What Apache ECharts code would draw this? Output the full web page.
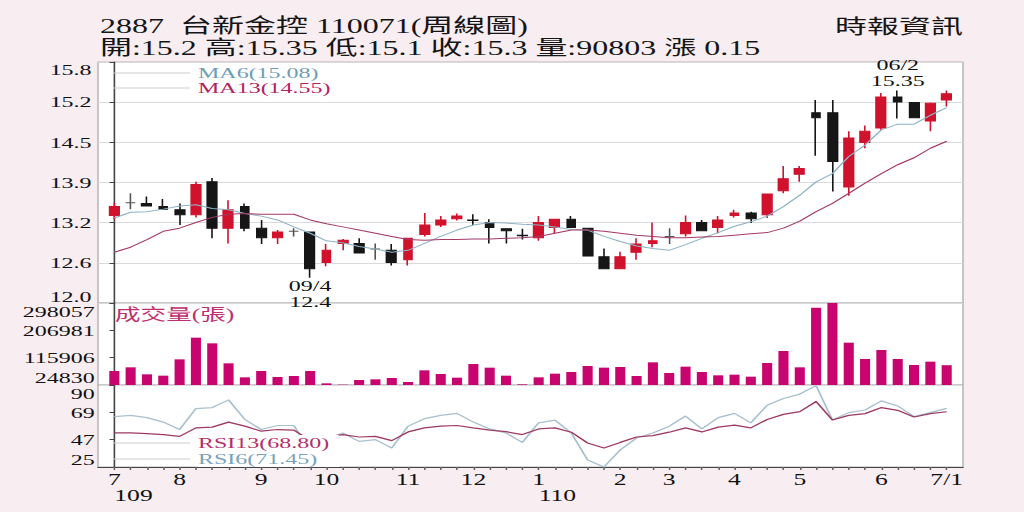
<!DOCTYPE html>
<html><head><meta charset="utf-8">
<script src="https://cdn.jsdelivr.net/npm/echarts@6/dist/echarts.min.js"></script>
<style>
html,body{margin:0;padding:0;background:#f8edf1;overflow:hidden;width:1024px;height:512px;}
#wrap{width:1024px;height:512px;overflow:hidden;position:relative;}
#chart{width:640px;height:512px;transform:scaleX(1.6);transform-origin:0 0;}
</style></head><body><div id="wrap"><div id="chart"></div></div>
<script>
// ---- data (weekly, 109/07 .. 110/07/01) ----
const opens  = [13.38,13.58,13.57,13.52,13.47,13.39,13.91,13.18,13.52,13.18,13.03,13.13,13.12,12.64,12.94,12.94,12.85,12.83,12.68,13.08,13.23,13.33,13.31,13.27,13.17,13.07,13.03,13.19,13.32,13.18,12.73,12.54,12.80,12.94,13.05,13.09,13.27,13.19,13.38,13.42,13.39,13.77,14.03,15.00,15.00,13.83,14.53,14.76,15.25,15.16,14.87,15.20];
const closes = [13.52,13.58,13.53,13.48,13.39,13.87,13.18,13.47,13.18,13.03,13.12,13.13,12.54,12.83,12.99,12.79,12.85,12.64,13.02,13.23,13.31,13.37,13.30,13.19,13.14,13.06,13.27,13.32,13.19,12.74,12.54,12.73,12.93,12.98,13.05,13.27,13.14,13.31,13.42,13.33,13.72,13.96,14.12,14.92,14.23,14.60,14.71,15.25,15.17,14.92,15.15,15.30];
const lows   = [13.32,13.48,13.52,13.47,13.23,13.35,13.02,12.94,13.13,12.93,12.93,13.05,12.40,12.58,12.83,12.79,12.68,12.59,12.59,13.05,13.20,13.30,13.23,12.94,12.94,13.00,12.98,13.10,13.19,12.74,12.54,12.54,12.68,12.88,12.93,13.05,13.13,13.10,13.35,13.26,13.34,13.73,13.91,14.32,13.76,13.69,14.44,14.73,14.91,14.92,14.71,15.10];
const highs  = [13.58,13.73,13.68,13.64,13.57,13.91,13.97,13.62,13.57,13.31,13.15,13.18,13.12,12.93,13.01,13.02,12.94,12.93,13.02,13.42,13.37,13.41,13.40,13.32,13.17,13.17,13.37,13.32,13.37,13.18,12.86,12.81,13.02,13.27,13.18,13.38,13.31,13.37,13.47,13.44,13.72,14.16,14.16,15.20,15.20,14.71,14.80,15.31,15.35,15.16,15.16,15.35];
const ma6    = [13.34,13.43,13.44,13.48,13.53,13.55,13.49,13.47,13.41,13.37,13.31,13.20,13.10,12.98,12.95,12.89,12.85,12.80,12.83,12.94,13.05,13.15,13.23,13.27,13.26,13.24,13.23,13.20,13.16,13.15,13.05,12.97,12.90,12.86,12.83,12.92,13.02,13.11,13.21,13.28,13.37,13.52,13.70,13.91,14.04,14.31,14.49,14.73,14.82,14.82,14.96,15.08];
const ma13   = [12.80,12.88,13.00,13.13,13.18,13.27,13.35,13.40,13.41,13.40,13.40,13.40,13.31,13.25,13.20,13.15,13.10,13.05,13.00,12.99,13.00,13.00,13.01,13.01,13.02,13.03,13.05,13.10,13.15,13.15,13.13,13.10,13.07,13.05,13.03,13.03,13.04,13.05,13.07,13.09,13.11,13.18,13.29,13.44,13.57,13.73,13.89,14.04,14.18,14.29,14.44,14.55];
const volumes = [71480,83700,60370,55930,110350,182550,163670,97030,50380,71480,51490,54820,71480,30380,25940,41490,43710,48150,34830,73700,61480,49260,94800,82590,55930,27050,50380,62590,68150,88140,82590,84810,54820,100360,64810,85920,68150,57040,59260,52600,98140,138120,83700,282510,298057,165890,111460,141450,111460,91470,102580,90803];
const rsi6  = [64.9,65.9,64.1,60.6,54.7,71.3,72.1,78.2,62.7,54.7,57.9,57.9,38.0,47.0,52.0,45.3,46.7,40.0,57.4,63.3,65.9,67.5,60.6,55.2,52.0,44.5,60.0,62.2,52.0,30.6,25.0,38.6,48.0,52.0,57.4,65.4,55.2,64.1,67.5,60.0,74.0,79.3,82.8,89.5,62.2,68.1,70.2,77.4,73.4,64.9,68.1,71.45];
const rsi13 = [52.0,52.0,51.5,50.7,49.3,56.0,56.6,60.6,57.4,53.4,54.7,54.2,46.0,49.0,50.7,48.8,49.3,45.9,52.8,56.0,57.4,57.9,56.0,54.2,53.0,50.7,55.2,56.0,52.6,44.0,40.0,44.5,48.8,49.9,52.6,56.0,52.8,56.6,58.2,56.0,62.7,66.7,68.9,76.9,62.2,65.9,67.3,72.1,69.9,64.6,67.3,68.80];

// ---- axis ticks / labels ----
const monthTickIdx = [0,4,9,13,18,22,26,31,34,38,42,47,51];
const monthLabels  = ['7','8','9','10','11','12','1','2','3','4','5','6','7/1'];
const yearTickIdx  = [0,26];
const yearLabels   = ['109','110'];
const priceTickVals = [12.0,12.6333,13.2667,13.9,14.5333,15.1667,15.8];
const priceTickLabels = ['12.0','12.6','13.2','13.9','14.5','15.2','15.8'];
const volTickVals = [24830,115905.67,206981.33,298057];
const volTickLabels = ['24830','115906','206981','298057'];
const rsiTickVals = [25,46.667,68.333,90];
const rsiTickLabels = ['25','47','69','90'];
const extremes = [{idx:12, date:'09/4', kind:'low'},{idx:48, date:'06/2', kind:'high'}];
const stockCode = '2887', stockName = '台新金控', dateCode = '110071';

// ---- layout helpers (chart is drawn 640 wide and stretched x1.6) ----
const SX = 1.6;
const px = v => v / SX;
const CW = 640;
const gLeft = px(98), gRight = CW - px(963);
const SERIF = '"Liberation Serif","Noto Sans CJK TC",serif';
const last = a => a[a.length-1];

function labelFmt(vals, labels){
  return function(v){
    let k = vals.findIndex(t => Math.abs(t - v) < 1e-3);
    if (k < 0) return '';
    if (k === vals.length-1) return '{t|' + labels[k] + '}';
    if (k === 0) return '{b|' + labels[k] + '}';
    return labels[k];
  };
}
function richFor(padTop, padBot){
  const base = {fontSize:15, fontFamily:SERIF, color:'#111'};
  return {t:Object.assign({padding:[padTop,0,0,0]}, base), b:Object.assign({padding:[0,0,padBot,0]}, base)};
}
function yAxisDef(grid, min, max, vals, labels, padTop, padBot, split, margin){
  return {
    type:'value', gridIndex:grid, min:min, max:max,
    axisLine:{show:true, lineStyle:{color:'#444', width:1}},
    axisTick:{show:true, length:3, customValues:vals, lineStyle:{color:'#444'}},
    axisLabel:{customValues:vals, formatter:labelFmt(vals,labels), rich:richFor(padTop,padBot),
      fontSize:15, fontFamily:SERIF, color:'#111', margin:margin},
    splitLine:{show:split, customValues:vals, lineStyle:{color:'#dadada', width:1}}
  };
}
const idx = opens.map((_, i) => i);
const xBase = {type:'value', min:-1, max:52};

const chart = echarts.init(document.getElementById('chart'), null, {renderer:'svg', width:CW, height:512});
const gridStyle = {show:true, backgroundColor:'#fff', borderColor:'#b8b8b8', borderWidth:1, left:gLeft, right:gRight};

const chg = (closes[closes.length-1] - closes[closes.length-2]).toFixed(2);

const option = {
  animation:false,
  backgroundColor:'transparent',
  grid:[
    Object.assign({top:62, height:241}, gridStyle),
    Object.assign({top:303, height:82}, gridStyle),
    Object.assign({top:385, height:82}, gridStyle)
  ],
  xAxis:[
    Object.assign({gridIndex:0, axisLine:{show:false}, axisTick:{show:false}, axisLabel:{show:false}, splitLine:{show:false}}, xBase),
    Object.assign({gridIndex:1, axisLine:{show:false}, axisTick:{show:false}, axisLabel:{show:false}, splitLine:{show:false}}, xBase),
    Object.assign({gridIndex:2, position:'bottom',
      axisLine:{show:true, lineStyle:{color:'#444'}},
      axisTick:{show:true, length:3, customValues:idx, lineStyle:{color:'#666'}},
      axisLabel:{customValues:monthTickIdx, formatter:v => monthLabels[monthTickIdx.indexOf(Math.round(v))] || '',
        fontSize:16, fontFamily:SERIF, color:'#111', margin:5},
      splitLine:{show:false}}, xBase),
    Object.assign({gridIndex:2, position:'bottom', offset:16,
      axisLine:{show:false}, axisTick:{show:false},
      axisLabel:{customValues:yearTickIdx, formatter:v => yearLabels[yearTickIdx.indexOf(Math.round(v))] || '',
        align:'left', fontSize:16, fontFamily:SERIF, color:'#111', margin:5},
      splitLine:{show:false}}, xBase)
  ],
  yAxis:[
    yAxisDef(0, 12.0, 15.8, priceTickVals, priceTickLabels, 16, 12, true, 4),
    yAxisDef(1, 24830, 298057, volTickVals, volTickLabels, 18, 15, false, 2),
    yAxisDef(2, 25, 90, rsiTickVals, rsiTickLabels, 17, 14, false, 2)
  ],
  legend:[
    {orient:'vertical', left:px(113), top:65.5, padding:0, itemGap:0, itemWidth:px(190-113), itemHeight:1.2,
     icon:'rect', selectedMode:false, itemStyle:{color:'#cdcdcd', borderWidth:0},
     textStyle:{fontFamily:SERIF, fontSize:15, lineHeight:15},
     data:[{name:'MA6(' + last(ma6).toFixed(2) + ')', textStyle:{color:'#6f9db5'}},
           {name:'MA13(' + last(ma13).toFixed(2) + ')', textStyle:{color:'#b3245f'}}]},
    {orient:'vertical', left:px(113), top:435, padding:0, itemGap:0, itemWidth:px(190-113), itemHeight:1.2,
     icon:'rect', selectedMode:false, itemStyle:{color:'#cdcdcd', borderWidth:0},
     textStyle:{fontFamily:SERIF, fontSize:15, lineHeight:16, backgroundColor:'#fff', width:88},
     data:[{name:'RSI13(' + last(rsi13).toFixed(2) + ')', textStyle:{color:'#b3306a'}},
           {name:'RSI6(' + last(rsi6).toFixed(2) + ')', textStyle:{color:'#79a3b9'}}]}
  ],
  graphic:[
    {type:'text', x:px(100), y:26.5, style:{text:stockCode + '  ' + stockName + ' ' + dateCode + '(周線圖)', font:'20px ' + SERIF, fill:'#151515', verticalAlign:'middle'}},
    {type:'text', x:px(100), y:48, style:{text:'開:' + opens[51] + ' 高:' + highs[51] + ' 低:' + lows[51].toFixed(1) + ' 收:' + closes[51].toFixed(1) + ' 量:' + volumes[51] + ' 漲 ' + chg, font:'20px ' + SERIF, fill:'#151515', verticalAlign:'middle'}},
    {type:'text', x:px(963), y:27, style:{text:'時報資訊', font:'20px ' + SERIF, fill:'#151515', align:'right', verticalAlign:'middle'}},
    {type:'text', x:px(115), y:315, z:10, style:{text:'成交量(張)', font:'16px ' + SERIF, fill:'#c0306e', verticalAlign:'middle'}}
  ],
  series:[
    {type:'candlestick', name:'K', xAxisIndex:0, yAxisIndex:0, barWidth:6.3,
     itemStyle:{color:'#d0122c', color0:'#161616', borderColor:'#d0122c', borderColor0:'#161616', borderColorDoji:'#555', borderWidth:1},
     data: idx.map(i => [i, opens[i], closes[i], lows[i], highs[i]]),
     markPoint:{symbol:'circle', symbolSize:0, animation:false,
       label:{show:true, color:'#111', fontFamily:SERIF, fontSize:15, lineHeight:16},
       data: extremes.map(e => ({
         coord:[e.idx, e.kind === 'low' ? lows[e.idx] : highs[e.idx]],
         label:{position: e.kind === 'low' ? 'bottom' : 'top', distance: e.kind === 'low' ? 0 : 2,
                formatter: e.date + '\n' + (e.kind === 'low' ? lows[e.idx] : highs[e.idx])}
       }))}
    },
    {type:'line', name:'MA6(' + last(ma6).toFixed(2) + ')', xAxisIndex:0, yAxisIndex:0, symbol:'none', color:'#8db3c7',
     lineStyle:{width:1, color:'#8db3c7'}, z:3, data: idx.map(i => [i, ma6[i]])},
    {type:'line', name:'MA13(' + last(ma13).toFixed(2) + ')', xAxisIndex:0, yAxisIndex:0, symbol:'none', color:'#a33a68',
     lineStyle:{width:1, color:'#a33a68'}, z:3, data: idx.map(i => [i, ma13[i]])},
    {type:'bar', name:'VOL', xAxisIndex:1, yAxisIndex:1, barWidth:6.3, itemStyle:{color:'#c8046e'},
     data: idx.map(i => [i, volumes[i]])},
    {type:'line', name:'RSI6(' + last(rsi6).toFixed(2) + ')', xAxisIndex:2, yAxisIndex:2, symbol:'none', color:'#a9c1cf',
     lineStyle:{width:1.2, color:'#a9c1cf'}, data: idx.map(i => [i, rsi6[i]])},
    {type:'line', name:'RSI13(' + last(rsi13).toFixed(2) + ')', xAxisIndex:2, yAxisIndex:2, symbol:'none', color:'#9e3a63',
     lineStyle:{width:1.2, color:'#9e3a63'}, data: idx.map(i => [i, rsi13[i]])}
  ]
};
chart.setOption(option);
</script></body></html>
